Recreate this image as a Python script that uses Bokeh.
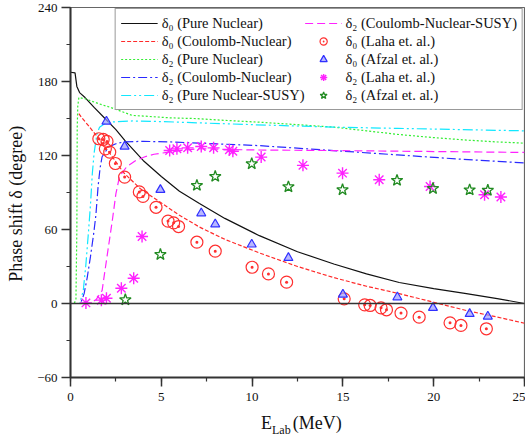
from bokeh.plotting import figure
from bokeh.models import Legend, LegendItem, Span, Div, SingleIntervalTicker, Range1d
from bokeh.layouts import column
from bokeh.embed import file_html
from bokeh.resources import INLINE

# ---- theory curves ----
x_d0_pn = [0, 0.25, 0.35, 0.5, 0.8, 1.3, 1.9, 2.5, 3.0, 4.0, 5.0, 6.0, 7.1, 8.5, 10.4, 12.5, 14.5, 16.3, 18.1, 20.0, 21.8, 23.5, 25.0]
y_d0_pn = [187.5, 187, 176, 171, 167, 159, 150, 141, 132, 116, 103, 91, 81, 69, 55, 42, 32, 24, 17, 12, 8, 4, 0]

x_d0_cn = [0.46, 0.6, 1.0, 1.6, 2.2, 2.93, 3.85, 4.95, 6.0, 7.1, 8.5, 10.4, 12.5, 14.5, 16.3, 18.1, 20.0, 21.8, 23.5, 25.0]
y_d0_cn = [154, 151, 144, 133, 121, 106, 93, 82, 71.5, 62, 52, 41, 30, 21, 14, 8, 1, -5.7, -11, -16]

x_d2_pn = [0, 0.2, 0.3, 0.35, 0.37, 0.4, 0.46, 0.8, 1.56, 2.2, 3.4, 4.0, 5.5, 6.8, 8.5, 10.4, 12.5, 14.5, 16.3, 18.1, 20.0, 21.8, 23.5, 25.0]
y_d2_pn = [0, 0, 3, 60, 142, 160, 167, 166, 162, 159, 152.5, 152, 150.5, 150, 148.5, 147, 145, 143, 140, 137, 134.5, 132.5, 131, 130]

x_d2_cn = [0, 0.55, 0.75, 0.92, 1.1, 1.28, 1.4, 1.52, 1.63, 1.74, 2.1, 2.5, 2.93, 4.0, 5.5, 7.1, 10.4, 14.5, 18.0, 21.5, 25.0]
y_d2_cn = [0, 0, 8, 21, 38, 57, 72, 95, 110, 119, 127, 129.5, 131, 131.5, 131, 130, 128, 124, 120.5, 117, 114]

x_d2_pn_susy = [0, 0.5, 0.7, 0.85, 1.0, 1.1, 1.2, 1.3, 1.45, 1.6, 2.0, 3.4, 5.0, 7.0, 10.0, 14.5, 18.0, 21.5, 25.0]
y_d2_pn_susy = [0, 0, 10, 32, 60, 80, 105, 122, 137, 143, 147, 148, 147.5, 146.5, 145, 143, 142, 141, 140]

x_d2_cn_susy = [0, 1.0, 1.4, 1.74, 2.0, 2.3, 2.5, 2.7, 3.1, 3.6, 4.1, 4.6, 5.5, 7.0, 10.0, 14.5, 18.0, 21.5, 25.0]
y_d2_cn_susy = [0, 0, 3, 10.5, 37, 67, 89, 103, 111, 116, 119, 121, 123, 125.5, 124.5, 124, 123.5, 123, 122.5]

# ---- experimental data ----
x_d0_laha = [1.56, 1.80, 2.01, 1.92, 2.16, 2.47, 2.98, 3.79, 3.99, 4.71, 5.37, 5.68, 5.95, 6.96, 7.97, 10.0, 10.9, 11.9, 15.07, 16.2, 16.5, 17.1, 17.4, 18.2, 19.2, 20.9, 21.5, 22.9]
y_d0_laha = [133.6, 133, 131.4, 125.4, 122.7, 113.5, 102.5, 90.5, 86.8, 78, 66.8, 65.4, 62.4, 49.7, 42.4, 29.4, 24, 17.3, 3.8, -1.1, -1.6, -3.5, -5.1, -7.8, -11.1, -15.7, -17.8, -20.5]

x_d0_afzal = [1.98, 2.98, 4.95, 7.2, 7.97, 9.98, 12.0, 15.0, 18.0, 19.96, 21.98, 22.98]
y_d0_afzal = [147.6, 127.3, 92.2, 73.2, 64.3, 47.9, 37, 7.3, 5.1, -3.5, -8.4, -10.5]

x_d2_laha = [0.85, 1.7, 1.98, 2.8, 3.48, 3.94, 5.46, 5.86, 6.45, 7.2, 7.88, 8.75, 8.94, 10.5, 12.8, 14.98, 17.0, 19.8, 22.8, 23.7]
y_d2_laha = [0.5, 2.7, 4.3, 12.4, 20.5, 54.3, 124, 125.4, 126.2, 127.3, 126.2, 124.6, 123.5, 118.7, 112, 105.7, 100.3, 94.9, 88.2, 86.3]

x_d2_afzal = [3.02, 4.95, 6.96, 7.97, 9.98, 12.0, 14.98, 17.98, 19.96, 21.98, 22.98]
y_d2_afzal = [3, 39.7, 95.7, 103, 113.3, 94.6, 92.2, 99.8, 93.2, 92.1, 91.8]

FONT = "Liberation Serif"

p = figure(width=525, height=408, x_range=Range1d(0, 25), y_range=Range1d(-60, 240),
           output_backend="svg", toolbar_location=None,
           min_border_left=70, min_border_right=1, min_border_top=7, min_border_bottom=31)
p.grid.visible = False
p.outline_line_color = "#666666"
p.outline_line_width = 1.2
p.background_fill_color = "white"
p.border_fill_color = "white"

p.xaxis.ticker = SingleIntervalTicker(interval=5, num_minor_ticks=2)
p.yaxis.ticker = SingleIntervalTicker(interval=60, num_minor_ticks=2)
for ax in (p.xaxis, p.yaxis):
    ax.axis_line_width = 2
    ax.axis_line_color = "#333333"
    ax.major_tick_line_color = "#333333"
    ax.minor_tick_line_color = "#333333"
    ax.major_tick_line_width = 1.5
    ax.minor_tick_line_width = 1.2
    ax.major_tick_out = 9
    ax.major_tick_in = 0
    ax.minor_tick_out = 4
    ax.minor_tick_in = 0
    ax.major_label_text_font = FONT
    ax.major_label_text_font_size = "13px"
    ax.major_label_text_color = "#111111"
p.xaxis.major_label_standoff = 6
p.yaxis.major_label_standoff = 4
p.yaxis.axis_label = "Phase shift δ (degree)" + "\u00a0" * 5
p.yaxis.axis_label_text_font = FONT
p.yaxis.axis_label_text_font_size = "18px"
p.yaxis.axis_label_text_font_style = "normal"
p.yaxis.axis_label_text_color = "#111111"
p.yaxis.axis_label_standoff = 8

p.add_layout(Span(location=0, dimension="width", line_color="#333333", line_width=1.5))

def curve(x, y, color, dash, width=1.2):
    r = p.line(x, y, line_color=color, line_dash=dash, line_width=width)
    m = p.scatter(x=[], y=[], marker="circle", size=3, color=color)
    return [r, m]

r1 = curve(x_d0_pn, y_d0_pn, "#111111", "solid")
r2 = curve(x_d0_cn, y_d0_cn, "#ff2a2a", "4 2")
r3 = curve(x_d2_pn, y_d2_pn, "#33ee33", "2 2")
r4 = curve(x_d2_cn, y_d2_cn, "#2a2aff", "9 3 2 3")
r5 = curve(x_d2_pn_susy, y_d2_pn_susy, "#11e8ff", "10 3 2 3 2 3")
r6 = curve(x_d2_cn_susy, y_d2_cn_susy, "#ff22ff", "8 4")

s1 = p.scatter(x_d0_laha, y_d0_laha, marker="circle_dot", size=12, line_color="#ff3030",
               fill_color=None, line_width=1.2)
s2 = p.scatter(x_d0_afzal, y_d0_afzal, marker="triangle", size=9, line_color="#3030ff",
               fill_color="#9a9aff", fill_alpha=0.7, line_width=1.2)
s3 = p.scatter(x_d2_laha, y_d2_laha, marker="asterisk", size=12, line_color="#ff22ff",
               line_width=1.4)
s4 = p.scatter(x_d2_afzal, y_d2_afzal, marker="star", size=12, line_color="#228b22",
               fill_color=None, line_width=1.3)

items = [
    LegendItem(label="δ₀ (Pure Nuclear)", renderers=r1),
    LegendItem(label="δ₀ (Coulomb-Nuclear)", renderers=r2),
    LegendItem(label="δ₂ (Pure Nuclear)", renderers=r3),
    LegendItem(label="δ₂ (Coulomb-Nuclear)", renderers=r4),
    LegendItem(label="δ₂ (Pure Nuclear-SUSY)", renderers=r5),
    LegendItem(label="δ₂ (Coulomb-Nuclear-SUSY)", renderers=r6),
    LegendItem(label="δ₀ (Laha et. al.)", renderers=[s1]),
    LegendItem(label="δ₀ (Afzal et. al.)", renderers=[s2]),
    LegendItem(label="δ₂ (Laha et. al.)", renderers=[s3]),
    LegendItem(label="δ₂ (Afzal et. al.)", renderers=[s4]),
]
legend = Legend(items=items, ncols=2, location="top_right", margin=1,
                border_line_color="#333333", border_line_width=1.2,
                background_fill_color="white", background_fill_alpha=1.0,
                label_text_font=FONT, label_text_font_size="14.5px", label_text_color="#111111",
                glyph_width=37, glyph_height=18, label_height=18, spacing=0,
                padding=5, label_standoff=4)
p.add_layout(legend)

# x-axis title with a real subscript, placed under the plot
xlabel = Div(
    text=('<div style="padding-left:261px;padding-top:6px;white-space:nowrap;'
          'font-family:\'Liberation Serif\';font-size:18px;line-height:18px;color:#111111;">'
          'E<span style="font-size:12px;position:relative;top:5px;">Lab</span>'
          '<span style="margin-left:2px;">(MeV)</span></div>'),
    width=525, height=28, margin=0)

layout = column(p, xlabel, spacing=0)
open("out.html", "w").write(file_html(layout, INLINE))
